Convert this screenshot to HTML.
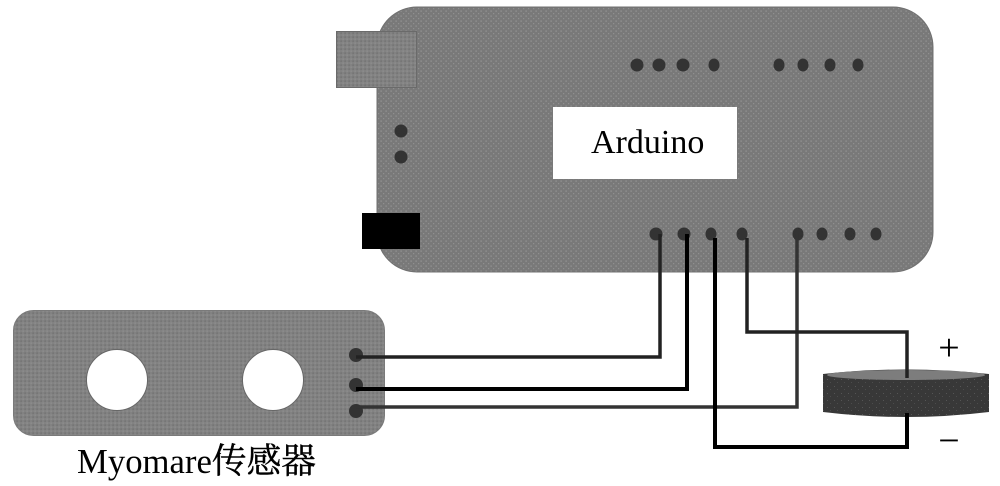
<!DOCTYPE html>
<html lang="zh">
<head>
<meta charset="utf-8">
<title>Arduino Myomare</title>
<style>
html,body{margin:0;padding:0;background:#fff;width:1000px;height:486px;overflow:hidden}
svg{display:block}
text{font-family:"Liberation Serif","Noto Serif CJK SC",serif;fill:#000}
</style>
</head>
<body>
<svg width="1000" height="486" viewBox="0 0 1000 486" xmlns="http://www.w3.org/2000/svg">
<defs>
<pattern id="p1" width="5" height="5" patternUnits="userSpaceOnUse">
<rect width="5" height="5" fill="#797979"/>
<rect x="0.5" y="0.5" width="1.2" height="1.2" fill="#999"/>
<rect x="3" y="3" width="1.2" height="1.2" fill="#909090"/>
</pattern>
<pattern id="p2" width="4" height="4" patternUnits="userSpaceOnUse">
<rect width="4" height="4" fill="#828282"/>
<rect x="0.5" y="0.5" width="1.2" height="1.2" fill="#696969"/>
<rect x="2.5" y="2.5" width="1.2" height="1.2" fill="#949494"/>
</pattern>
<pattern id="p3" width="7" height="7" patternUnits="userSpaceOnUse">
<rect width="7" height="7" fill="#383838"/>
<rect x="1" y="1" width="1" height="1" fill="#555"/>
<rect x="4" y="4" width="1" height="1" fill="#4c4c4c"/>
</pattern>
</defs>

<!-- Arduino board -->
<rect x="377" y="7" width="556" height="265" rx="40" ry="40" fill="url(#p1)" stroke="#707070" stroke-width="1"/>
<rect x="336.5" y="31.5" width="80" height="56" fill="url(#p2)" stroke="#6a6a6a" stroke-width="1"/>
<rect x="362" y="213" width="58" height="36" fill="#000"/>
<rect x="553" y="107" width="184" height="72" fill="#fff"/>
<text x="591" y="153" font-size="34">Arduino</text>

<!-- Board pins -->
<g fill="#333">
<circle cx="401" cy="131" r="6.5"/>
<circle cx="401" cy="157" r="6.5"/>
<circle cx="637" cy="65" r="6.5"/>
<circle cx="659" cy="65" r="6.5"/>
<circle cx="683" cy="65" r="6.5"/>
<ellipse cx="714" cy="65" rx="5.5" ry="6.5"/>
<ellipse cx="779" cy="65" rx="5.5" ry="6.5"/>
<ellipse cx="803" cy="65" rx="5.5" ry="6.5"/>
<ellipse cx="830" cy="65" rx="5.5" ry="6.5"/>
<ellipse cx="858" cy="65" rx="5.5" ry="6.5"/>
<circle cx="656" cy="234" r="6.5"/>
<circle cx="684" cy="234" r="6.5"/>
<ellipse cx="711" cy="234" rx="5.5" ry="6.5"/>
<ellipse cx="742" cy="234" rx="5.5" ry="6.5"/>
<ellipse cx="798" cy="234" rx="5.5" ry="6.5"/>
<ellipse cx="822" cy="234" rx="5.5" ry="6.5"/>
<ellipse cx="850" cy="234" rx="5.5" ry="6.5"/>
<ellipse cx="876" cy="234" rx="5.5" ry="6.5"/>
</g>

<!-- Sensor -->
<rect x="13.5" y="310.5" width="371" height="125" rx="20" ry="20" fill="url(#p2)" stroke="#7a7a7a" stroke-width="1"/>
<circle cx="117" cy="380" r="30.5" fill="#fff" stroke="#666" stroke-width="1"/>
<circle cx="273" cy="380" r="30.5" fill="#fff" stroke="#666" stroke-width="1"/>
<g fill="#333">
<circle cx="356" cy="355" r="7"/>
<circle cx="356" cy="385" r="7"/>
<circle cx="356" cy="411" r="7"/>
</g>
<text x="77" y="473" font-size="35" textLength="239" lengthAdjust="spacingAndGlyphs">Myomare<tspan stroke="#000" stroke-width=".4">传感器</tspan></text>

<!-- Battery -->
<path d="M823 374Q906 365 989 374V412Q906 422 823 412Z" fill="url(#p3)"/>
<ellipse cx="906" cy="375" rx="79" ry="5" fill="#7d7d7d"/>

<!-- Wires -->
<g fill="none" stroke-linejoin="miter">
<path d="M356 357H660V234" stroke="#222" stroke-width="3.5"/>
<path d="M356 389H687V234" stroke="#000" stroke-width="4"/>
<path d="M356 407H797V234" stroke="#333" stroke-width="3.5"/>
<path d="M715 238V447H907V413" stroke="#000" stroke-width="4"/>
<path d="M747 238V332H907V378" stroke="#222" stroke-width="3.5"/>
</g>

<!-- Polarity -->
<text x="949" y="360" font-size="38" text-anchor="middle">+</text>
<text x="949" y="453" font-size="38" text-anchor="middle">−</text>
</svg>
</body>
</html>
